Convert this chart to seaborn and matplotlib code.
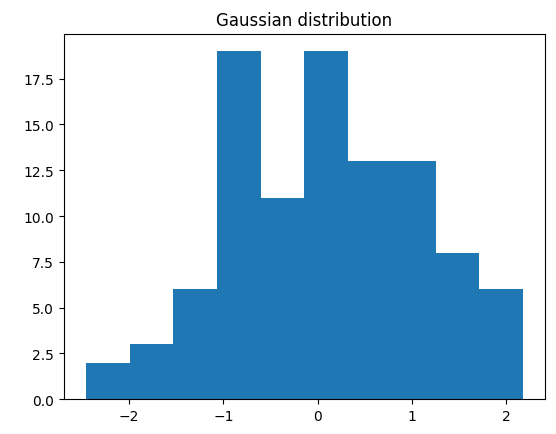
import matplotlib
matplotlib.use("Agg")
import matplotlib.pyplot as plt
import numpy as np
import pandas as pd
import seaborn as sns

# bin edges and counts
bin_edges = list(np.linspace(-2.46, 2.18, 11))
counts = [2, 3, 6, 19, 11, 19, 13, 13, 8, 6]
centers = [(a + b) / 2 for a, b in zip(bin_edges[:-1], bin_edges[1:])]
df = pd.DataFrame({"x": centers, "n": counts})

fig, ax = plt.subplots(figsize=(5.56, 4.35), dpi=100)
sns.histplot(data=df, x="x", weights="n", bins=bin_edges, ax=ax,
             color="#1f77b4", alpha=1, edgecolor="none", linewidth=0)
ax.set_title("Gaussian distribution")
ax.set_xlabel("")
ax.set_ylabel("")
fig.subplots_adjust(left=0.115, right=0.98, top=0.92, bottom=0.08)
fig.savefig("out.png")
